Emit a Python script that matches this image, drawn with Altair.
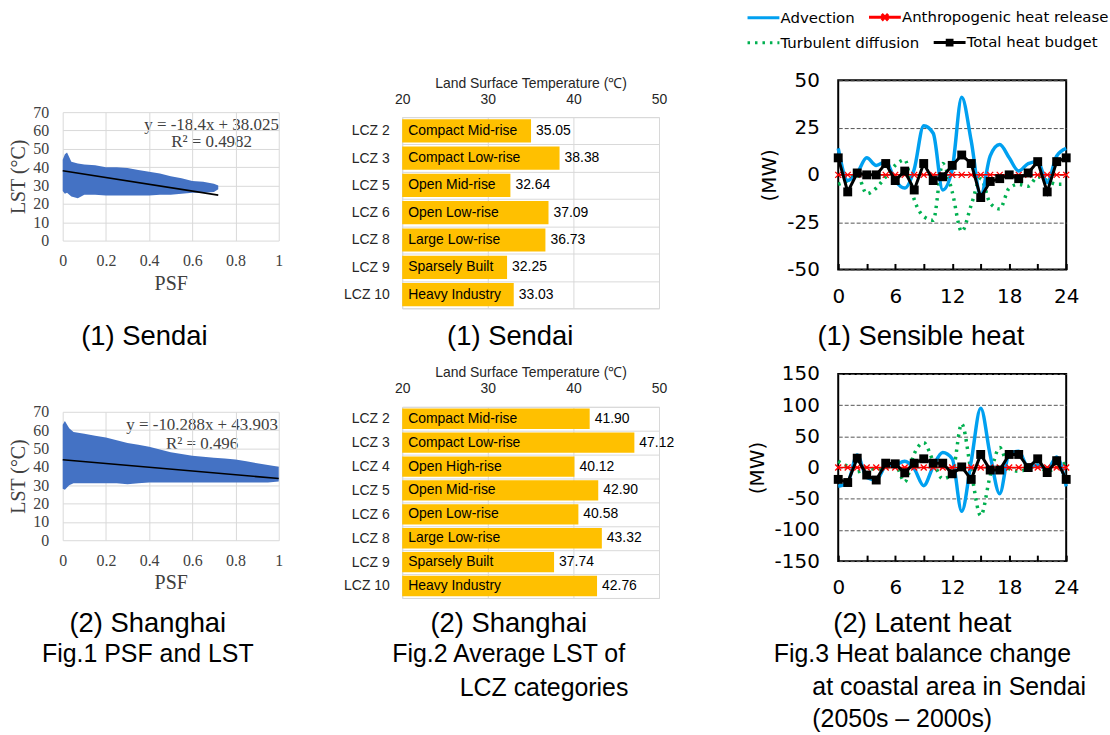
import altair as alt
import pandas as pd

# ---------------- Fig.1  PSF and LST (outline of the point cloud) ----------------
sendai_psf = [0.0, 0.01, 0.02, 0.04, 0.07, 0.1, 0.15, 0.2, 0.25, 0.3, 0.35, 0.4,
              0.45, 0.5, 0.55, 0.6, 0.65, 0.7, 0.72]
sendai_lst_high = [44, 47, 48, 43, 42, 41.5, 41, 40, 40, 39.5, 38.5, 37.5,
                   36.5, 35, 34, 32.5, 32, 31, 30]
sendai_lst_low = [27, 25.5, 26, 24, 23, 25, 25, 24.5, 24.5, 24.5, 24.5, 24.5,
                  25, 25, 25.5, 26, 26, 26.5, 28]
sendai_fit_psf = [0.0, 0.72]
sendai_fit_lst = [38.03, 24.78]
sendai_equation = ["y = -18.4x + 38.025", "R² = 0.4982"]

shanghai_psf = [0.0, 0.01, 0.03, 0.05, 0.1, 0.15, 0.2, 0.25, 0.3, 0.35, 0.4, 0.45,
                0.5, 0.55, 0.6, 0.65, 0.7, 0.75, 0.8, 0.85, 0.9, 0.95, 1.0]
shanghai_lst_high = [63, 65, 61, 59, 58, 57, 56, 54.5, 53, 52, 51, 49.5,
                     48, 47, 46, 45.5, 45, 44.5, 44, 43, 42, 41, 40]
shanghai_lst_low = [28, 27.5, 30, 31, 31, 31, 31, 31, 30.5, 31, 31.5, 31.5,
                    31.5, 31.5, 31.5, 31.5, 31.5, 31.5, 31.5, 31.5, 31.5, 31.5, 32]
shanghai_fit_psf = [0.0, 1.0]
shanghai_fit_lst = [43.90, 33.62]
shanghai_equation = ["y = -10.288x + 43.903", "R² = 0.496"]

psf_ticks = [0, 0.2, 0.4, 0.6, 0.8, 1]
lst_ticks = [0, 10, 20, 30, 40, 50, 60, 70]

# ---------------- Fig.2  Average LST of LCZ categories ----------------
sendai_lcz = ["LCZ 2", "LCZ 3", "LCZ 5", "LCZ 6", "LCZ 8", "LCZ 9", "LCZ 10"]
sendai_names = ["Compact Mid-rise", "Compact Low-rise", "Open Mid-rise", "Open Low-rise",
                "Large Low-rise", "Sparsely Built", "Heavy Industry"]
sendai_lst = [35.05, 38.38, 32.64, 37.09, 36.73, 32.25, 33.03]

shanghai_lcz = ["LCZ 2", "LCZ 3", "LCZ 4", "LCZ 5", "LCZ 6", "LCZ 8", "LCZ 9", "LCZ 10"]
shanghai_names = ["Compact Mid-rise", "Compact Low-rise", "Open High-rise", "Open Mid-rise",
                  "Open Low-rise", "Large Low-rise", "Sparsely Built", "Heavy Industry"]
shanghai_lst = [41.90, 47.12, 40.12, 42.90, 40.58, 43.32, 37.74, 42.76]
temp_ticks = [20, 30, 40, 50]

# ---------------- Fig.3  Heat balance change (2050s - 2000s) ----------------
hours = list(range(25))
legend_row1 = ["Advection", "Anthropogenic heat release"]
legend_row2 = ["Turbulent diffusion", "Total heat budget"]
series_names = legend_row1 + legend_row2
BLUE, RED, GREEN, BLACK = "#00A0F0", "#FF0000", "#00B050", "#000000"

sens_adv = [14, -3, 1, 9, 5, 7, -3, -7, 3, 26, 22, -8, 3, 41, 18, -11, 10, 16, 9, 2, 6, 7, -4, 10, 14]
sens_turb = [-5, -3, 0, -10, -7, -1, 5, 8, -13, -22, -24, 6, -9, -30, -16, -2, -15, -18, -7, -5, -6, -1, -3, -5, -5]
sens_anth = [0, 0, 0, 0, 0, 0, 0, 0, 0, 0, 0, 0, 0, 0, 0, 0, 0, 0, 0, 0, 0, 0, 0, 0, 0]
sens_total = [9, -9, 1, 0, 0, 6, -3, 2, -8, 6, -3, -1, 5, 10.5, 6, -12, -3.5, -2, 0, -2, 1, 7, -9, 7, 9]

lat_adv = [-30, -24, 20, -16, -20, 2, 4, 10, -2, -29, 2, 24, 14, -70, 10, 95, 20, -42, 22, 26, 0, 4, -3, 17, -30]
lat_turb = [10, 2, -7, 0, -3, 0, 4, -23, 22, 40, 10, -18, -10, 70, -7, -77, -13, 32, -2, -6, -2, 3, -6, 0, 8]
lat_anth = [0, 0, 0, 0, 0, 0, 0, 0, 0, 0, 0, 0, 0, 0, 0, 0, 0, 0, 0, 0, 0, 0, 0, 0, 0]
lat_total = [-19, -24, 15, -12, -20, 7, 6, -8.5, 7, 14, 7, 7, -10, 1, -19, 21, -4, -4, 21, 21, 0, 14, -8, 11, -19]

hour_ticks = [0, 3, 6, 9, 12, 15, 18, 21, 24]
sens_ticks = [-50, -25, 0, 25, 50]
lat_ticks = [-150, -100, -50, 0, 50, 100, 150]

# ---------------- styling ----------------
SANS = "Liberation Sans"
DV = "DejaVu Sans"
SERIF = "Liberation Serif"
GRID = "#D9D9D9"
TXT = "#404040"
DOTS = [2.5, 5]
LINE_SYM = "M-1.2,0H2.8"
X_SYM = "M-1.2,0H2.8M0.4,-0.4L1.2,0.4M0.4,0.4L1.2,-0.4"
SQ_SYM = "M-1.2,0H2.8M0.5,-0.3H1.1V0.3H0.5Z"
XPATH = "M-1,-1L1,1M-1,1L1,-1"


def spacer(w, h, title=None):
    ch = alt.Chart(pd.DataFrame({"t": [""]})).mark_text(fontSize=0).encode(
        text="t:N").properties(width=w, height=h)
    if title is not None:
        ch = ch.properties(title=title)
    return ch


def caption(text, dx, sub=None, anchor="middle", size=27.5, offset=0, lh=32):
    kw = dict(text=text, orient="bottom", frame="group", anchor=anchor, offset=offset, dx=dx,
              font=SANS, fontSize=size, fontWeight="normal", color="black", lineHeight=lh)
    if sub is not None:
        kw.update(subtitle=sub, subtitleFont=SANS, subtitleFontSize=25, subtitleColor="black",
                  subtitlePadding=5, subtitleLineHeight=31)
    return alt.TitleParams(**kw)


def equation(lines, offset, dx, lh):
    return alt.TitleParams(text=lines, orient="bottom", frame="group", anchor="middle", offset=offset, dx=dx,
                           font=SERIF, fontSize=17, fontWeight="normal", color=TXT, lineHeight=lh)


# ---------------- Fig.1 panels ----------------
def scatter_panel(psf, high, low, fit_x, fit_y):
    cloud = pd.DataFrame({"psf": psf, "high": high, "low": low})
    fit = pd.DataFrame({"psf": fit_x, "lst": fit_y})
    xs = alt.Scale(domain=[0, 1], nice=False)
    ys = alt.Scale(domain=[0, 70], nice=False)
    xax = alt.Axis(values=psf_ticks, format="~g", title="PSF", titleFont=SERIF, titleFontSize=20,
                   titleFontWeight="normal", titleColor=TXT, labelFont=SERIF, labelFontSize=16,
                   labelColor=TXT, ticks=False, domain=False, grid=True, gridColor=GRID,
                   labelPadding=12, titlePadding=5, labelOverlap=False, labelFlush=False)
    yax = alt.Axis(values=lst_ticks, title="LST (°C)", titleFont=SERIF, titleFontSize=20,
                   titleFontWeight="normal", titleColor=TXT, labelFont=SERIF, labelFontSize=16,
                   labelColor=TXT, ticks=False, domain=False, grid=True, gridColor=GRID,
                   labelPadding=14, titlePadding=4, labelOverlap=False, labelFlush=False)
    area = alt.Chart(cloud).mark_area(color="#4472C4", opacity=1).encode(
        x=alt.X("psf:Q", scale=xs, axis=xax),
        y=alt.Y("high:Q", scale=ys, axis=yax),
        y2="low:Q")
    line = alt.Chart(fit).mark_line(color="black", strokeWidth=1.6).encode(
        x=alt.X("psf:Q", scale=xs, axis=xax),
        y=alt.Y("lst:Q", scale=ys, axis=yax))
    return alt.layer(area, line).properties(width=217, height=129)


# ---------------- Fig.2 panels ----------------
def bar_panel(lcz, names, vals, height):
    df = pd.DataFrame({"lcz": lcz, "name": names, "lst": vals})
    xs = alt.Scale(domain=[20, 50], nice=False, zero=False)
    ysc = alt.Scale(paddingInner=0, paddingOuter=0)
    xax = alt.Axis(
        orient="top", values=temp_ticks, title="Land Surface Temperature (℃)", titleFont=SANS,
        titleFontSize=14, titleFontWeight="normal", titleColor="#262626", labelFont=SANS,
        labelFontSize=14, labelColor="#262626", ticks=False, domain=False, grid=True,
        gridColor=GRID, labelPadding=11, titlePadding=2, labelFlush=False)
    yax = alt.Axis(
        title=None, labelFont=SANS, labelFontSize=14, labelColor="#262626", ticks=False,
        domain=False, grid=True, gridColor=GRID, tickBand="extent", labelPadding=13)
    y = alt.Y("lcz:N", sort=lcz, scale=ysc, axis=yax)
    base = alt.Chart(df)
    bars = base.mark_bar(color="#FFC000", height={"band": 0.85}).encode(
        x=alt.X("lst:Q", scale=xs, axis=xax), x2=alt.datum(20), y=y)
    names_t = base.mark_text(align="left", baseline="middle", dx=6, font=SANS, fontSize=14,
                             color="black").encode(
        x=alt.X(datum=20, type="quantitative", scale=xs, axis=xax), y=y, text="name:N")
    vals_t = base.mark_text(align="left", baseline="middle", dx=5, font=SANS, fontSize=14,
                            color="black").encode(
        x=alt.X("lst:Q", scale=xs, axis=xax), y=y, text=alt.Text("lst:Q", format=".2f"))
    return alt.layer(bars, names_t, vals_t).properties(
        width=258, height=height,
        view=alt.ViewBackground(stroke=GRID, strokeWidth=1))


# ---------------- Fig.3 panels ----------------
def legend_def(y):
    return alt.Legend(title=None, orient="none", legendX=-91, legendY=y, direction="horizontal",
                      columnPadding=7, symbolSize=256, symbolStrokeWidth=3, symbolOffset=0,
                      labelOffset=14, labelFont=DV, labelFontSize=15, labelColor="black",
                      labelLimit=400, padding=0)


def legend_layer(base, names, colors, shapes, dashes, y):
    leg = legend_def(y)
    return base.transform_filter("false").mark_point(
        filled=False, size=256, strokeWidth=3, opacity=1).encode(
        color=alt.Color("series:N", scale=alt.Scale(domain=names, range=colors), legend=leg),
        shape=alt.Shape("series:N", scale=alt.Scale(domain=names, range=shapes), legend=leg),
        strokeDash=alt.StrokeDash("series:N", scale=alt.Scale(domain=names, range=dashes), legend=leg))


def heat_panel(adv, turb, anth, total, ydomain, yvalues, height, with_legend):
    df = pd.DataFrame({"hour": hours, "Advection": adv, "Anthropogenic heat release": anth,
                       "Turbulent diffusion": turb, "Total heat budget": total})
    base = alt.Chart(df).transform_fold(series_names, as_=["series", "value"])
    xs = alt.Scale(domain=[0, 24], nice=False)
    ys = alt.Scale(domain=ydomain, nice=False)
    xax = alt.Axis(
        values=hour_ticks, labelExpr="datum.value % 6 === 0 ? datum.label : ''",
        title=None, labelFont=DV, labelFontSize=20, labelColor="black", labelOverlap=False,
        labelFlush=False, ticks=True, tickSize=6, tickWidth=2, tickColor="black", offset=-6,
        domain=False, grid=False, labelPadding=17)
    yax = alt.Axis(
        values=yvalues, labelExpr="toString(datum.value)", title="(MW)", titleFont=DV,
        titleFontSize=20, titleFontWeight="normal", titleColor="black", labelFont=DV,
        labelFontSize=20, labelColor="black", ticks=False, labelOverlap=False, labelFlush=False,
        domain=False, grid=True, gridColor="#555555", gridDash=[4, 2], gridWidth=1,
        labelPadding=19, titlePadding=7)
    x = alt.X("hour:Q", scale=xs, axis=xax)
    y = alt.Y("value:Q", scale=ys, axis=yax)

    def only(name):
        return base.transform_filter(f"datum.series === '{name}'")

    turb_l = only("Turbulent diffusion").mark_line(
        interpolate="monotone", strokeWidth=3.5, color=GREEN, strokeDash=DOTS).encode(x=x, y=y)
    adv_l = only("Advection").mark_line(
        interpolate="monotone", strokeWidth=3.5, color=BLUE).encode(x=x, y=y)
    anth_l = only("Anthropogenic heat release").mark_line(strokeWidth=1.5, color=RED).encode(x=x, y=y)
    anth_p = only("Anthropogenic heat release").mark_point(
        shape=XPATH, size=36, strokeWidth=1.3, filled=False, opacity=1, color=RED).encode(x=x, y=y)
    tot_l = only("Total heat budget").mark_line(strokeWidth=3, color=BLACK).encode(x=x, y=y)
    tot_p = only("Total heat budget").mark_point(
        shape="square", size=80, filled=True, opacity=1, color=BLACK).encode(x=x, y=y)
    layers = [turb_l, adv_l, anth_l, anth_p, tot_l, tot_p]
    if with_legend:
        layers.append(legend_layer(base, legend_row1, [BLUE, RED], [LINE_SYM, X_SYM],
                                   [[1, 0], [1, 0]], -73))
        layers.append(legend_layer(base, legend_row2, [GREEN, BLACK], [LINE_SYM, SQ_SYM],
                                   [DOTS, [1, 0]], -47.5))
        ch = alt.layer(*layers).resolve_scale(color="independent", shape="independent",
                                              strokeDash="independent")
    else:
        ch = alt.layer(*layers)
    return ch.properties(width=229, height=height,
                         view=alt.ViewBackground(stroke="black", strokeWidth=2))


# ---------------- assemble (top of plot areas: 111 / 116 / 79 px) ----------------
s1 = scatter_panel(sendai_psf, sendai_lst_high, sendai_lst_low, sendai_fit_psf, sendai_fit_lst)
s2 = scatter_panel(shanghai_psf, shanghai_lst_high, shanghai_lst_low, shanghai_fit_psf,
                   shanghai_fit_lst)
col1 = alt.vconcat(
    spacer(217, 111, equation(sendai_equation, 4.5, 41, 18)),
    s1,
    spacer(217, 83.3, caption("(1) Sendai", -26.5)),
    spacer(217, 87.7, equation(shanghai_equation, 5.5, 31.5, 19)),
    s2,
    spacer(217, 70.3, caption("(2) Shanghai", -23, sub="Fig.1 PSF and LST")),
    spacing=0, bounds="flush")

b1 = bar_panel(sendai_lcz, sendai_names, sendai_lst, 192)
b2 = bar_panel(shanghai_lcz, shanghai_names, shanghai_lst, 192)
col2 = alt.vconcat(
    spacer(258, 116), b1,
    spacer(258, 15.3, caption("(1) Sendai", -20.5)),
    spacer(258, 82.7), b2,
    spacer(258, 12.3, caption("(2) Shanghai", -22, sub="Fig.2 Average LST of")),
    spacer(258, 65.45, caption("LCZ categories", 13.5, size=25)),
    spacing=0, bounds="flush")

h1 = heat_panel(sens_adv, sens_turb, sens_anth, sens_total, [-50, 50], sens_ticks, 190, True)
h2 = heat_panel(lat_adv, lat_turb, lat_anth, lat_total, [-150, 150], lat_ticks, 188, False)
col3 = alt.vconcat(
    spacer(229, 79), h1,
    spacer(229, 54.3, caption("(1) Sensible heat", -31.5)),
    spacer(229, 49.7), h2,
    spacer(229, 49.3, caption("(2) Latent heat", -30, sub="Fig.3 Heat balance change")),
    spacer(229, 64.45, caption(["at coastal area in Sendai", "(2050s – 2000s)"], -26,
                               anchor="start", size=25)),
    spacing=0, bounds="flush")

chart = alt.hconcat(col1, spacer(59, 1), col2, spacer(70.5, 1), col3, spacing=0).properties(
    padding={"left": 8, "top": 0, "right": 0, "bottom": 0}
).configure_view(stroke="transparent").configure_axis(labelOverlap=False, labelFlush=False)

chart.save("out.html", embed_options={"renderer": "svg", "actions": False})
